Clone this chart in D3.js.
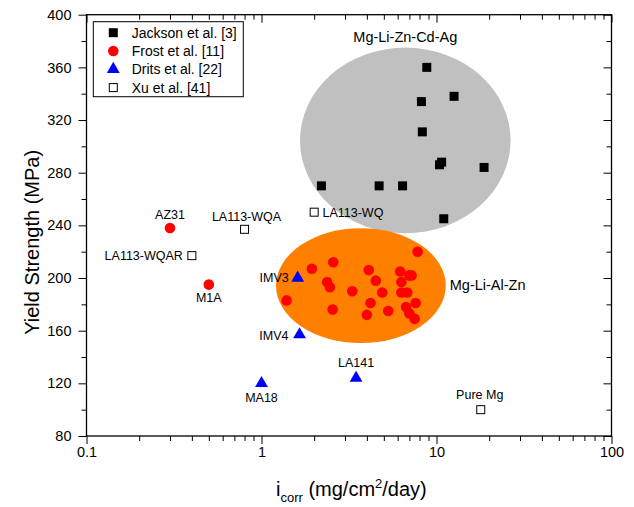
<!DOCTYPE html>
<html>
<head>
<meta charset="utf-8">
<script src="https://cdn.jsdelivr.net/npm/d3@7"></script>
<style>
  body { margin: 0; background: #fff; }
  svg text { font-family: "Liberation Sans", Arial, sans-serif; }
</style>
</head>
<body>
<div id="chart"></div>
<script>
//Data: [i_corr (mg/cm2/day), yield strength (MPa)]
var jackson = [[8.8,360],[12.6,338],[8.2,334],[8.3,311],[10.7,288],[10.4,286],
               [18.7,284],[2.2,270],[4.7,270],[6.4,270],[11.0,245]];

var frost = [[7.8,220],[1.94,207],[2.57,212],[4.1,206],[6.2,205],[7.0,202],[7.2,202],
             [2.37,197],[2.46,193],[4.5,198],[6.3,197],[3.3,190],[4.9,189],[6.3,189],
             [6.8,189],[1.39,183],[4.2,181],[7.6,181],[6.7,178],[2.55,176],[4.0,172],
             [5.3,175],[7.0,173],[7.5,169],[0.3,238],[0.5,195]];
var frostNames = ["","","","","","","","","","","","","","","","","","","","","","","","",
                  "AZ31","M1A"];

var drits = [[1.61,200],[1.65,157],[1.0,120],[3.47,124]];
var dritsNames = ["IMV3","IMV4","MA18","LA141"];

var xu = [[0.8,237],[0.4,217],[2.0,250],[17.9,100]];
var xuNames = ["LA113-WQA","LA113-WQAR","LA113-WQ","Pure Mg"];

//Groups drawn as shaded ellipses: [xmin, xmax, ymin, ymax]
var zones = [[1.66,26.5,234,375],[1.21,11.3,150.6,237.8]];
var zoneNames = ["Mg-Li-Zn-Cd-Ag","Mg-Li-Al-Zn"];
var zoneColors = ["#c0c0c0","#ff8000"];

var legendNames = ["Jackson et al. [3]","Frost et al. [11]","Drits et al. [22]","Xu et al. [41]"];

var xTicks = [0.1,1,10,100];
var yTicks = [80,120,160,200,240,280,320,360,400];

///////////////////////////////////////////////////////////////////////////
//////////////////////////// Set up the SVG ///////////////////////////////
///////////////////////////////////////////////////////////////////////////

var W = 634, H = 507;
var margin = {top: 14.7, right: 22.5, bottom: 71, left: 86.5};
var width = W - margin.left - margin.right,
    height = H - margin.top - margin.bottom;

var svg = d3.select("#chart").append("svg")
    .attr("width", W)
    .attr("height", H)
    .append("g")
    .attr("transform", "translate(" + margin.left + "," + margin.top + ")");

var x = d3.scaleLog().domain([0.1,100]).range([0,width]);
var y = d3.scaleLinear().domain([80,400]).range([height,0]);

//minor ticks: 2..9 in every decade, and the half steps on y
var xMinor = [];
xTicks.slice(0,-1).forEach(function(d){
  for (var k = 2; k < 10; k++) xMinor.push(d*k);
});
var yMinor = yTicks.slice(0,-1).map(function(d){ return d + 20; });

///////////////////////////////////////////////////////////////////////////
/////////////////////////////// Ellipses //////////////////////////////////
///////////////////////////////////////////////////////////////////////////

zones.forEach(function(z,i){
  var cx = (x(z[0]) + x(z[1]))/2, cy = (y(z[2]) + y(z[3]))/2;
  var rx = (x(z[1]) - x(z[0]))/2, ry = (y(z[2]) - y(z[3]))/2;
  svg.append("ellipse")
    .attr("cx", cx).attr("cy", cy)
    .attr("rx", rx).attr("ry", ry)
    .style("fill", zoneColors[i]);
  if (i === 0) {
    svg.append("text")
      .attr("x", cx).attr("y", cy - ry - 6)
      .attr("text-anchor", "middle")
      .style("font-size", "14.5px")
      .text(zoneNames[i]);
  } else {
    svg.append("text")
      .attr("x", cx + rx + 4).attr("y", cy + 4.5)
      .style("font-size", "14.5px")
      .text(zoneNames[i]);
  }
});

///////////////////////////////////////////////////////////////////////////
//////////////////////////////// Axes /////////////////////////////////////
///////////////////////////////////////////////////////////////////////////

function styleAxis(g) {
  g.select(".domain").remove();
  g.selectAll("line").attr("stroke", "#000").attr("stroke-width", 1);
  g.selectAll("text").style("font-size", "14.5px").attr("fill", "#000")
    .style("font-family", "'Liberation Sans', Arial, sans-serif");
}

svg.append("g").attr("transform", "translate(0," + height + ")")
  .call(d3.axisBottom(x).tickValues(xTicks).tickFormat(d3.format("")).tickSize(8).tickPadding(3))
  .call(styleAxis);
svg.append("g").attr("transform", "translate(0," + height + ")")
  .call(d3.axisBottom(x).tickValues(xMinor).tickFormat("").tickSize(5))
  .call(styleAxis);
svg.append("g")
  .call(d3.axisTop(x).tickValues(xTicks).tickFormat("").tickSize(-8))
  .call(styleAxis);
svg.append("g")
  .call(d3.axisTop(x).tickValues(xMinor).tickFormat("").tickSize(-5))
  .call(styleAxis);

svg.append("g")
  .call(d3.axisLeft(y).tickValues(yTicks).tickSize(8).tickPadding(7))
  .call(styleAxis);
svg.append("g")
  .call(d3.axisLeft(y).tickValues(yMinor).tickFormat("").tickSize(5))
  .call(styleAxis);
svg.append("g").attr("transform", "translate(" + width + ",0)")
  .call(d3.axisRight(y).tickValues(yTicks).tickFormat("").tickSize(-8))
  .call(styleAxis);
svg.append("g").attr("transform", "translate(" + width + ",0)")
  .call(d3.axisRight(y).tickValues(yMinor).tickFormat("").tickSize(-5))
  .call(styleAxis);

//frame
svg.append("rect")
  .attr("width", width).attr("height", height)
  .attr("fill", "none").attr("stroke", "#000").attr("stroke-width", 1.3);

//axis titles
svg.append("text")
  .attr("transform", "translate(-48," + (height/2 + 17) + ") rotate(-90)")
  .attr("text-anchor", "middle")
  .style("font-size", "20px")
  .text("Yield Strength (MPa)");

var xt = svg.append("text")
  .attr("x", width/2 - 73).attr("y", height + 60)
  .style("font-size", "20px");
xt.append("tspan").text("i");
xt.append("tspan").attr("dy", 6).style("font-size", "13px").text("corr");
xt.append("tspan").attr("dy", -6).text(" (mg/cm");
xt.append("tspan").attr("dy", -8).style("font-size", "13px").text("2");
xt.append("tspan").attr("dy", 8).text("/day)");

///////////////////////////////////////////////////////////////////////////
/////////////////////////////// Markers ///////////////////////////////////
///////////////////////////////////////////////////////////////////////////

var sq = d3.symbol(d3.symbolSquare, 81);
var tri = d3.symbol(d3.symbolTriangle, 72);

svg.selectAll(".jackson")
  .data(jackson)
  .enter().append("path")
  .attr("class", "jackson")
  .attr("transform", function(d){ return "translate(" + x(d[0]) + "," + y(d[1]) + ")"; })
  .attr("d", sq)
  .attr("fill", "#000");

svg.selectAll(".frost")
  .data(frost)
  .enter().append("circle")
  .attr("class", "frost")
  .attr("cx", function(d){ return x(d[0]); })
  .attr("cy", function(d){ return y(d[1]); })
  .attr("r", 5.3)
  .attr("fill", "#ff0000");

svg.selectAll(".drits")
  .data(drits)
  .enter().append("path")
  .attr("class", "drits")
  .attr("transform", function(d){ return "translate(" + x(d[0]) + "," + y(d[1]) + ")"; })
  .attr("d", tri)
  .attr("fill", "#0000ff");

svg.selectAll(".xu")
  .data(xu)
  .enter().append("rect")
  .attr("class", "xu")
  .attr("x", function(d){ return x(d[0]) - 4; })
  .attr("y", function(d){ return y(d[1]) - 4; })
  .attr("width", 8).attr("height", 8)
  .attr("fill", "#fff").attr("stroke", "#000").attr("stroke-width", 1);

///////////////////////////////////////////////////////////////////////////
///////////////////////////// Point labels ////////////////////////////////
///////////////////////////////////////////////////////////////////////////

//offset [dx, dy, anchor] of each label from its marker
var place = {
  "AZ31": [0,-8.5,"middle"], "M1A": [0,17.7,"middle"],
  "IMV3": [-9,4.4,"end"], "IMV4": [-11,5,"end"],
  "MA18": [0,19,"middle"], "LA141": [0,-11,"middle"],
  "LA113-WQA": [2,-8,"middle"], "LA113-WQAR": [-9,4.3,"end"],
  "LA113-WQ": [8.3,4.6,"start"], "Pure Mg": [-1,-11,"middle"]
};

function addLabels(pts, names) {
  pts.forEach(function(d,i){
    var n = names[i];
    if (!n) return;
    var p = place[n];
    svg.append("text")
      .attr("x", x(d[0]) + p[0])
      .attr("y", y(d[1]) + p[1])
      .attr("text-anchor", p[2])
      .style("font-size", "12.5px")
      .text(n);
  });
}
addLabels(frost, frostNames);
addLabels(drits, dritsNames);
addLabels(xu, xuNames);

///////////////////////////////////////////////////////////////////////////
/////////////////////////////// Legend ////////////////////////////////////
///////////////////////////////////////////////////////////////////////////

var leg = svg.append("g").attr("transform", "translate(" + (93.3 - margin.left) + "," + (21.7 - margin.top) + ")");
leg.append("rect")
  .attr("width", 150).attr("height", 75)
  .attr("fill", "#fff").attr("stroke", "#000").attr("stroke-width", 1);

legendNames.forEach(function(n,i){
  var ly = 11 + i*18.3;
  if (i === 0) leg.append("path").attr("transform", "translate(20," + ly + ")").attr("d", sq).attr("fill", "#000");
  if (i === 1) leg.append("circle").attr("cx", 20).attr("cy", ly).attr("r", 5.3).attr("fill", "#ff0000");
  if (i === 2) leg.append("path").attr("transform", "translate(20," + ly + ")").attr("d", tri).attr("fill", "#0000ff");
  if (i === 3) leg.append("rect").attr("x", 16).attr("y", ly - 4).attr("width", 8).attr("height", 8)
                  .attr("fill", "#fff").attr("stroke", "#000");
  leg.append("text")
    .attr("x", 38.4).attr("y", ly + 5)
    .style("font-size", "14px")
    .text(n);
});
</script>
</body>
</html>
